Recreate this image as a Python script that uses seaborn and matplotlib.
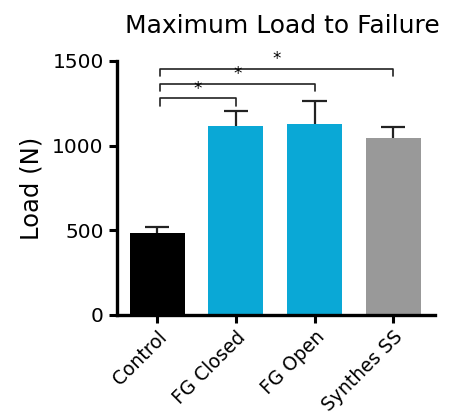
import matplotlib
matplotlib.use("Agg")
import matplotlib.pyplot as plt
import numpy as np
import pandas as pd
import seaborn as sns

# data
groups = ["Control", "FG Closed", "FG Open", "Synthes SS"]
load_mean = [485, 1115, 1130, 1047]
load_sem = [36, 90, 132, 63]
bar_colors = ["#000000", "#0aa8d6", "#0aa8d6", "#999999"]

# significance brackets: (from, to, height, label)
brackets = [(0, 1, 1280, "*"), (0, 2, 1366, "*"), (0, 3, 1453, "*")]

sns.set_theme(style="ticks")
plt.rcParams["font.family"] = ["DejaVu Sans"]
plt.rcParams["text.color"] = "black"
plt.rcParams["axes.labelcolor"] = "black"
plt.rcParams["xtick.color"] = "black"
plt.rcParams["ytick.color"] = "black"

df = pd.DataFrame({"group": groups, "load": load_mean})

fig = plt.figure(figsize=(4.55, 4.2), dpi=100)
ax = fig.add_axes([0.257, 0.25, 0.699, 0.605])

sns.barplot(data=df, x="group", y="load", hue="group", palette=bar_colors,
            order=groups, hue_order=groups, errorbar=None, width=0.7,
            legend=False, ax=ax, saturation=1, linewidth=0)

# upper-only error bars
x = np.arange(len(groups))
tops = np.array(load_mean) + np.array(load_sem)
ax.vlines(x, load_mean, tops, color="#222222", lw=1.6, zorder=1)
ax.hlines(tops, x - 0.155, x + 0.155, color="#222222", lw=1.6, zorder=1)

for a, b, h, lab in brackets:
    drop = 45
    ax.plot([a + 0.04, a + 0.04, b, b], [h - drop, h, h, h - drop],
            color="#222222", lw=1.2, clip_on=False)
    ax.text((a + b) / 2 + 0.02, h + 3, lab, ha="center", va="bottom", fontsize=12)

ax.set_ylim(0, 1500)
ax.set_xlim(-0.51, 3.53)
ax.set_yticks([0, 500, 1000, 1500])
ax.set_xlabel("")
ax.set_ylabel("Load (N)", fontsize=17.5, labelpad=6)
ax.set_title("Maximum Load to Failure", fontsize=18, pad=20, x=0.52)

for s in ["top", "right"]:
    ax.spines[s].set_visible(False)
for s in ["left", "bottom"]:
    ax.spines[s].set_linewidth(2.4)
    ax.spines[s].set_color("black")
ax.tick_params(axis="both", width=2.2, length=6, color="black", labelsize=14.5)
ax.tick_params(axis="x", labelsize=13.5, pad=3)
plt.setp(ax.get_xticklabels(), rotation=45, ha="right", rotation_mode="anchor")

fig.savefig("out.png", dpi=100)
